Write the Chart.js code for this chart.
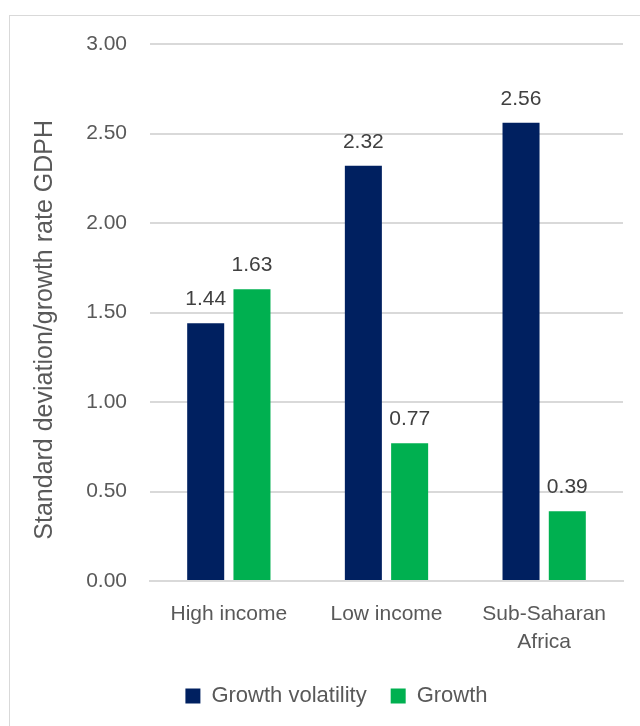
<!DOCTYPE html>
<html>
<head>
<meta charset="utf-8">
<script src="https://cdn.jsdelivr.net/npm/chart.js@4/dist/chart.umd.min.js"></script>
<style>
  html, body { margin: 0; padding: 0; background: #fff; overflow: hidden; }
  #frame { position: absolute; left: 9px; top: 15px; width: 700px; height: 800px; border: 1px solid #d9d9d9; }
  #myChart { position: absolute; left: 0; top: 0; }
</style>
</head>
<body>
<div id="frame"></div>
<canvas id="myChart" width="640" height="726"></canvas>
<script>
// Chart data
const categories = ['High income', 'Low income', ['Sub-Saharan', 'Africa']];
const volatility = [1.44, 2.32, 2.56];
const growth = [1.63, 0.77, 0.39];
const yTicks = [0, 0.5, 1, 1.5, 2, 2.5, 3];

const fontFamily = '"Liberation Sans", Arial, sans-serif';
const textColor = '#595959';
const gridColor = '#d9d9d9';

// Draws the value above each bar
const valueLabels = {
    id: 'valueLabels',
    afterDatasetsDraw(chart) {
        const ctx = chart.ctx;
        ctx.save();
        ctx.font = '21px ' + fontFamily;
        ctx.fillStyle = '#404040';
        ctx.textAlign = 'center';
        ctx.textBaseline = 'middle';
        chart.data.datasets.forEach((ds, i) => {
            chart.getDatasetMeta(i).data.forEach((bar, j) => {
                ctx.fillText(ds.data[j].toFixed(2), bar.x, bar.y - 24);
            });
        });
        ctx.restore();
    }
};

const chartConfig = {
    type: 'bar',
    data: {
        labels: categories,
        datasets: [{
            label: 'Growth volatility',
            data: volatility,
            backgroundColor: '#002060'
        }, {
            label: 'Growth',
            data: growth,
            backgroundColor: '#00b050'
        }]
    },
    options: {
        responsive: false,
        animation: false,
        categoryPercentage: 0.587,
        barPercentage: 0.8,
        layout: {
            padding: { left: 50, right: 17, top: 44, bottom: 9 }
        },
        plugins: {
            legend: {
                position: 'bottom',
                labels: {
                    color: textColor,
                    font: { family: fontFamily, size: 22 },
                    boxWidth: 15,
                    boxHeight: 15,
                    padding: 24
                }
            },
            tooltip: { enabled: false }
        },
        scales: {
            x: {
                grid: { display: false },
                border: { color: gridColor, width: 2 },
                ticks: {
                    color: textColor,
                    font: { family: fontFamily, size: 21, lineHeight: 1.35 },
                    padding: 11,
                    maxRotation: 0
                },
                afterFit(scale) { scale.height = 80; }
            },
            y: {
                min: 0,
                max: 3,
                afterBuildTicks(scale) { scale.ticks = yTicks.map(v => ({ value: v })); },
                grid: { color: gridColor, lineWidth: 2, drawTicks: false },
                border: { display: false },
                ticks: {
                    color: textColor,
                    font: { family: fontFamily, size: 21 },
                    padding: 23,
                    callback: v => Number(v).toFixed(2)
                },
                title: {
                    display: true,
                    // trailing spaces nudge the rotated title a little lower, as in the original
                    text: 'Standard deviation/growth rate GDPH     ',
                    color: textColor,
                    font: { family: fontFamily, size: 25 },
                    padding: { top: -20, bottom: 0 }
                },
                afterFit(scale) { scale.width = 100; }
            }
        }
    },
    plugins: [valueLabels]
};

const ctx = document.getElementById('myChart').getContext('2d');
const myChart = new Chart(ctx, chartConfig);
</script>
</body>
</html>
